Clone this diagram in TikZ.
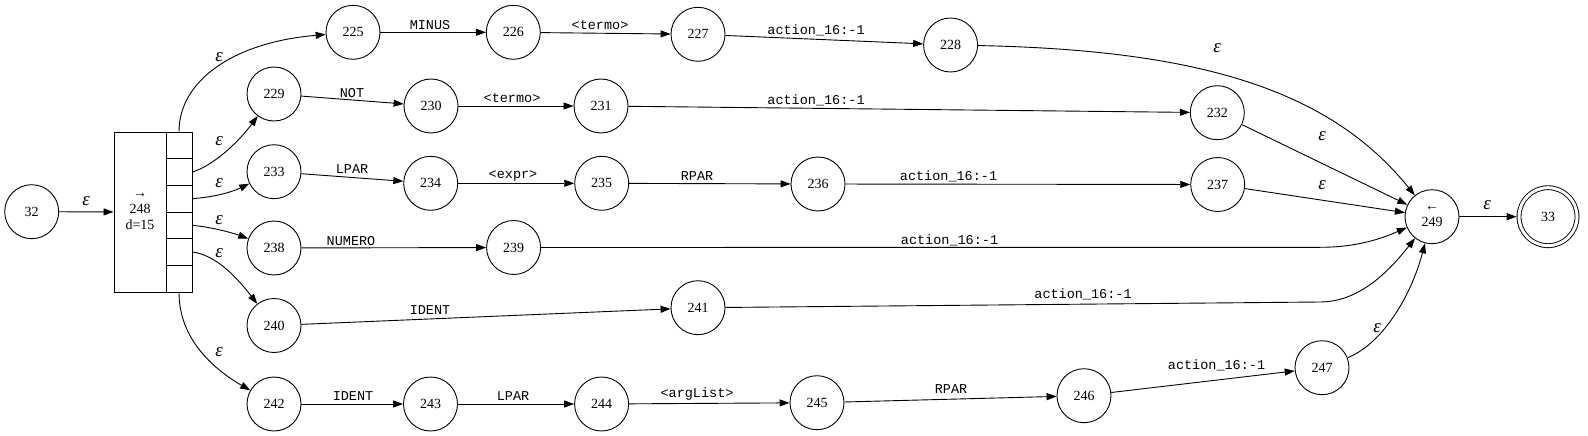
\documentclass[tikz,border=0pt]{standalone}
\usepackage{fontspec}
\setmainfont{Liberation Serif}
\setmonofont{Liberation Mono}
\usetikzlibrary{arrows.meta}
\newcommand{\eps}{{\fontsize{19}{19}\selectfont\itshape ε}}

\begin{document}
\begin{tikzpicture}
  [
  x=1pt, y=-1pt,
  font=\fontsize{14}{16}\selectfont, line width=0.9pt, >={Triangle[length=10pt,width=7pt]},
  statenode/.style={circle, inner sep=0pt, minimum size=54pt, draw=black},
  acceptnode/.style={circle, inner sep=0pt, minimum size=58pt, draw=black, double, double distance=3pt, outer sep=2.4pt},
  recordnode/.style={rectangle, inner sep=0pt, minimum width=52pt, minimum height=160pt, draw=black, align=center},
  cellnode/.style={rectangle, inner sep=0pt, minimum width=26pt, minimum height=26.67pt, draw=black},
  elabel/.style={inner sep=0pt, font=\fontsize{13.5}{16}\ttfamily},
  ]
  \useasboundingbox (0,0) rectangle (1588,436);

  % entry and the record 248
  \node[statenode] (s32) at (31.7,211.7) {32};
  \node[recordnode] (s248) at (140,212) {→\\248\\d=15};
  \node[cellnode] (c1) at (179,145.33) {};
  \node[cellnode] (c2) at (179,172) {};
  \node[cellnode] (c3) at (179,198.67) {};
  \node[cellnode] (c4) at (179,225.33) {};
  \node[cellnode] (c5) at (179,252) {};
  \node[cellnode] (c6) at (179,278.67) {};
  \draw[->] (s32) -- (s248);
  \node (e248) at (86,201) {\eps};

  % MINUS branch
  \node[statenode] (s225) at (353,32.3) {225};
  \node[statenode] (s226) at (513.3,32.3) {226};
  \node[statenode] (s227) at (698,34.3) {227};
  \node[statenode] (s228) at (950.6,45) {228};
  \draw[->] (c1.north) .. controls (179,80) and (235,42) .. (s225);
  \draw[->] (s225) -- (s226);
  \draw[->] (s226) -- (s227);
  \draw[->] (s227) -- (s228);
  \node (e225) at (219,57) {\eps};
  \node[elabel] (minus) at (430,25) {MINUS};
  \node[elabel] (termoA) at (600,25) {<termo>};
  \node[elabel] (actA) at (816,30) {action\_16:-1};

  % NOT branch
  \node[statenode] (s229) at (274,94) {229};
  \node[statenode] (s230) at (431,106) {230};
  \node[statenode] (s231) at (601,106) {231};
  \node[statenode] (s232) at (1217.3,112.7) {232};
  \draw[->] (c2.east) .. controls (215,165) and (240,140) .. (s229);
  \draw[->] (s229) -- (s230);
  \draw[->] (s230) -- (s231);
  \draw[->] (s231) -- (s232);
  \node (e229) at (219,141) {\eps};
  \node[elabel] (not) at (352,93) {NOT};
  \node[elabel] (termoB) at (512,98) {<termo>};
  \node[elabel] (actB) at (816,100) {action\_16:-1};

  % parenthesised expression
  \node[statenode] (s233) at (274,171.7) {233};
  \node[statenode] (s234) at (430.7,183.3) {234};
  \node[statenode] (s235) at (601.7,183.3) {235};
  \node[statenode] (s236) at (818,184) {236};
  \node[statenode] (s237) at (1217.7,184.5) {237};
  \draw[->] (c3.east) .. controls (215,197) and (232,192) .. (s233);
  \draw[->] (s233) -- (s234);
  \draw[->] (s234) -- (s235);
  \draw[->] (s235) -- (s236);
  \draw[->] (s236) -- (s237);
  \node (e233) at (219,183) {\eps};
  \node[elabel] (lparA) at (352,169) {LPAR};
  \node[elabel] (expr) at (513,176) {<expr>};
  \node[elabel] (rparA) at (697,176) {RPAR};
  \node[elabel] (actC) at (948.5,176.5) {action\_16:-1};

  % NUMERO
  \node[statenode] (s238) at (274,248) {238};
  \node[statenode] (s239) at (513.6,247.5) {239};
  \draw[->] (c4.east) .. controls (210,227) and (230,232) .. (s238);
  \draw[->] (s238) -- (s239);
  \node (e238) at (219,220) {\eps};
  \node[elabel] (numero) at (351,241) {NUMERO};
  \node[elabel] (actD) at (949.5,240) {action\_16:-1};

  % IDENT
  \node[statenode] (s240) at (274,325.5) {240};
  \node[statenode] (s241) at (698,307.7) {241};
  \draw[->] (c5.east) .. controls (215,255) and (235,275) .. (s240);
  \draw[->] (s240) -- (s241);
  \node (e240) at (219,253) {\eps};
  \node[elabel] (identA) at (430,310) {IDENT};
  \node[elabel] (actE) at (1083,294) {action\_16:-1};

  % call IDENT ( argList )
  \node[statenode] (s242) at (274,404) {242};
  \node[statenode] (s243) at (430.5,404) {243};
  \node[statenode] (s244) at (601.6,404) {244};
  \node[statenode] (s245) at (817,402.7) {245};
  \node[statenode] (s246) at (1084,395.7) {246};
  \node[statenode] (s247) at (1322,367.7) {247};
  \draw[->] (c6.south) .. controls (179,340) and (215,370) .. (s242);
  \draw[->] (s242) -- (s243);
  \draw[->] (s243) -- (s244);
  \draw[->] (s244) -- (s245);
  \draw[->] (s245) -- (s246);
  \draw[->] (s246) -- (s247);
  \node (e242) at (219,352) {\eps};
  \node[elabel] (identB) at (353,396) {IDENT};
  \node[elabel] (lparB) at (513,396) {LPAR};
  \node[elabel] (arglist) at (697,394) {<argList>};
  \node[elabel] (rparB) at (951,389) {RPAR};
  \node[elabel] (actF) at (1216.5,365) {action\_16:-1};

  % exit
  \node[statenode, align=center] (s249) at (1432,216.7) {←\\249};
  \node[acceptnode] (s33) at (1548,216.7) {33};
  \draw[->] (s228) .. controls (1200,50) and (1330,90) .. (s249);
  \draw[->] (s232) -- (s249);
  \draw[->] (s237) -- (s249);
  \draw[->] (s239) -- (1320,247.3) .. controls (1360,247.3) and (1385,237) .. (s249);
  \draw[->] (s241) -- (1320,302) .. controls (1360,302) and (1390,270) .. (s249);
  \draw[->] (s247) .. controls (1380,345) and (1410,300) .. (s249);
  \draw[->] (s249) -- (s33);
  \node (e228) at (1217,48) {\eps};
  \node (e232) at (1322,136) {\eps};
  \node (e237) at (1322,185) {\eps};
  \node (e247) at (1377,328) {\eps};
  \node (e33) at (1487,205) {\eps};

\end{tikzpicture}
\end{document}
